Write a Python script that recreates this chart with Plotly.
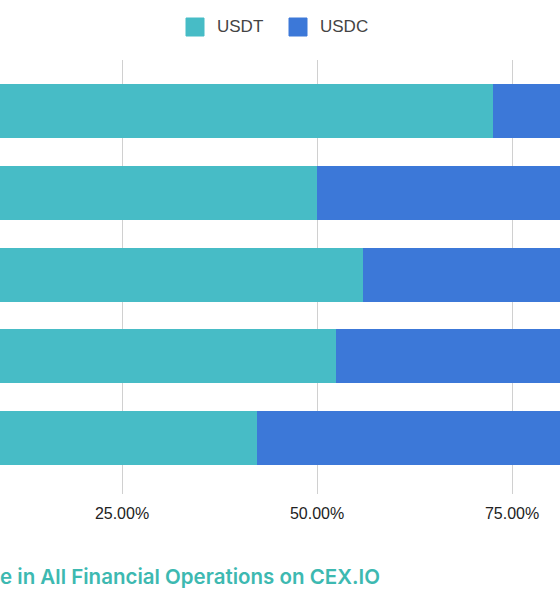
import plotly.graph_objects as go

# stacked share per row, percent (rows from top to bottom)
rows = ["Row 1", "Row 2", "Row 3", "Row 4", "Row 5"]
usdt = [72.6, 50.0, 55.9, 52.4, 42.3]
usdc = [round(100 - v, 1) for v in usdt]

tick_vals = [0, 25, 50, 75, 100]
tick_text = ["0.00%", "25.00%", "50.00%", "75.00%", "100.00%"]

series_names = ["USDT", "USDC"]
series_colors = ["#47BCC6", "#3C78D8"]

title_text = "e in All Financial Operations on CEX.IO"

W, H = 560, 600
top, bottom = 60, 494   # plot area in pixels


def px(x):
    return x / W


def py(y):
    return (bottom - y) / (bottom - top)


fig = go.Figure()
for name, vals, col in zip(series_names, [usdt, usdc], series_colors):
    fig.add_trace(go.Bar(y=rows, x=vals, name=name, orientation="h",
                         marker=dict(color=col, line=dict(width=0)),
                         showlegend=False))

fig.update_layout(
    width=W, height=H,
    barmode="stack", bargap=0.34,
    plot_bgcolor="white", paper_bgcolor="white",
    margin=dict(l=0, r=0, t=top, b=H - bottom, autoexpand=False),
    font=dict(family="Liberation Sans, Arial, sans-serif", size=16, color="#222"),
)
fig.update_xaxes(range=[9.36, 81.15], tickvals=tick_vals, ticktext=tick_text,
                 showgrid=True, gridcolor="#d0d0d0", gridwidth=1,
                 zeroline=False, showline=False, automargin=False,
                 ticks="outside", ticklen=5, tickcolor="rgba(0,0,0,0)")
fig.update_yaxes(range=[4.68, -0.62], showticklabels=False, showgrid=False,
                 zeroline=False, showline=False, automargin=False)

# legend drawn by hand to match the big rounded squares
legend_x = [186, 289]
for lx, name, col in zip(legend_x, series_names, series_colors):
    fig.add_shape(type="rect", xref="paper", yref="paper",
                  x0=px(lx), x1=px(lx + 18), y0=py(36), y1=py(18),
                  fillcolor=col, line=dict(color=col, width=1))
    fig.add_annotation(text=name, xref="paper", yref="paper",
                       x=px(lx + 29), y=py(27), xanchor="left", yanchor="middle",
                       showarrow=False,
                       font=dict(size=17, color="#444"))

fig.add_annotation(text=title_text, xref="paper", yref="paper",
                   x=0, y=py(576), xanchor="left", yanchor="middle",
                   xshift=-2, showarrow=False,
                   font=dict(family="Inter, sans-serif", size=20.5, color="#3DB9B1",
                             weight=600))

# page body has a default 8px margin, drop it so the figure fills the window
fig.write_html("out.html", config={"displayModeBar": False},
               post_script="document.body.style.margin='0';")
